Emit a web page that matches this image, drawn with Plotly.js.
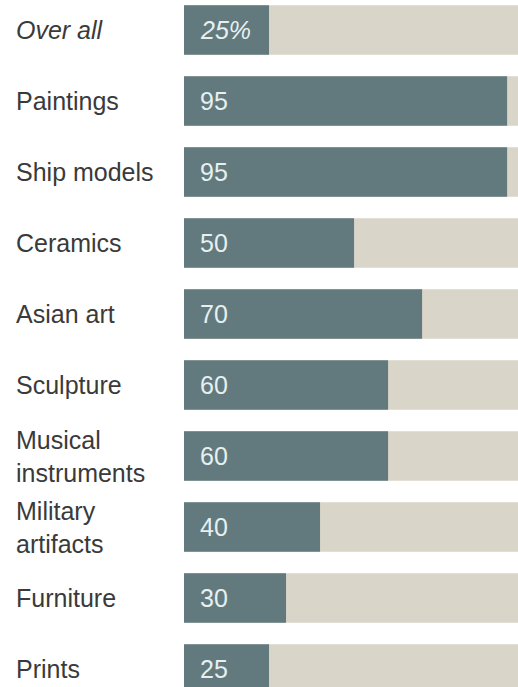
<!DOCTYPE html>
<html>
<head>
<meta charset="utf-8">
<script src="https://cdn.plot.ly/plotly-3.0.1.min.js"></script>
<style>html,body{margin:0;padding:0;background:#fff;}#chart{width:518px;height:687px;}</style>
</head>
<body>
<div id="chart"></div>
<script>
var categories = ["Over all", "Paintings", "Ship models", "Ceramics", "Asian art", "Sculpture", "Musical<br>instruments", "Military<br>artifacts", "Furniture", "Prints"];
var values = [25, 95, 95, 50, 70, 60, 60, 40, 30, 25];
var valueLabels = ["25%", "95", "95", "50", "70", "60", "60", "40", "30", "25"];
var fullScale = [100, 100, 100, 100, 100, 100, 100, 100, 100, 100];

var FONT = "Liberation Sans, Arial, sans-serif";
var barWidth = 0.70;

var bg = {
  type: "bar", orientation: "h", y: categories, x: fullScale,
  marker: {color: "#d9d5c9"}, width: barWidth, hoverinfo: "skip"
};
var fg = {
  type: "bar", orientation: "h", y: categories, x: values,
  marker: {color: "#627a7e"}, width: barWidth, hoverinfo: "skip"
};

var annotations = [];
categories.forEach(function (c, i) {
  var italic = i === 0;
  annotations.push({
    xref: "paper", yref: "y", x: -0.509, y: c, xanchor: "left", yanchor: "middle",
    text: italic ? "<i>" + c + "</i>" : c, showarrow: false, align: "left",
    font: {family: FONT, size: 25, color: "#3a3a3a"}
  });
  annotations.push({
    xref: "x", yref: "y", x: 0, y: c, xanchor: "left", yanchor: "middle", xshift: 14,
    text: italic ? "<i>" + valueLabels[i] + "</i>" : valueLabels[i], showarrow: false,
    font: {family: FONT, size: 25, color: "#e6f0f1"}
  });
});

var layout = {
  width: 518, height: 687,
  margin: {l: 184, r: 0, t: 0, b: 0, pad: 0},
  paper_bgcolor: "#ffffff", plot_bgcolor: "#ffffff",
  barmode: "overlay", showlegend: false,
  xaxis: {range: [0, 98.2], showgrid: false, zeroline: false, showticklabels: false, ticks: "", fixedrange: true},
  yaxis: {type: "category", range: [9.2535, -0.4225], showgrid: false, zeroline: false, showticklabels: false, ticks: "", fixedrange: true},
  annotations: annotations
};

Plotly.newPlot("chart", [bg, fg], layout, {displayModeBar: false, staticPlot: true});
</script>
</body>
</html>
